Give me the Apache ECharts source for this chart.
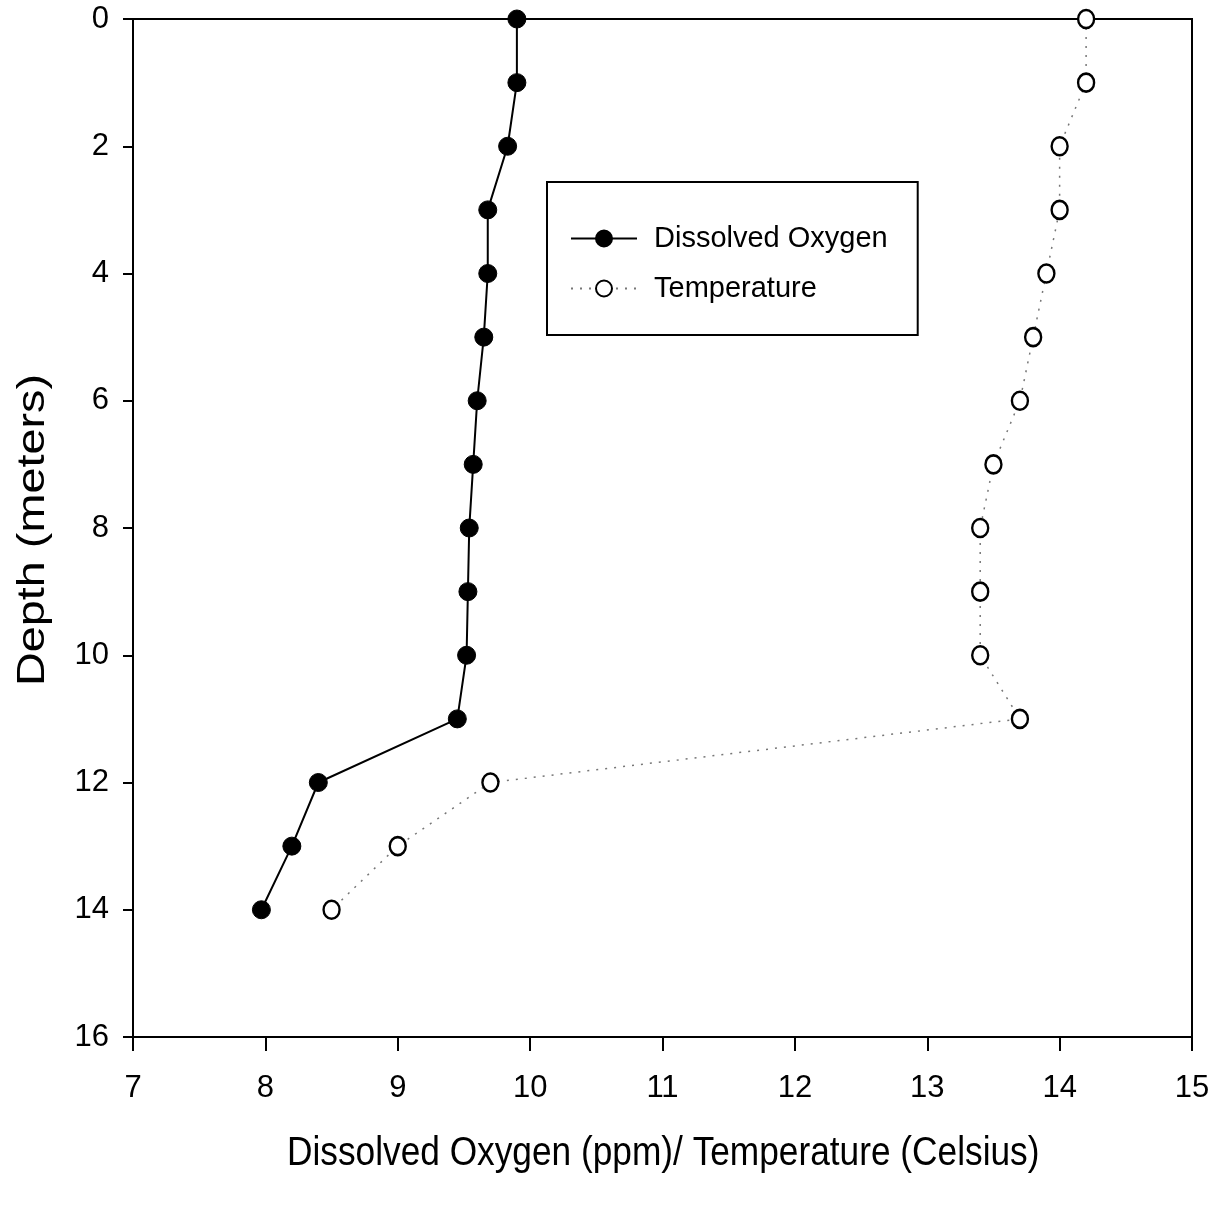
<!DOCTYPE html>
<html><head><meta charset="utf-8">
<script src="https://cdn.jsdelivr.net/npm/echarts@6/dist/echarts.min.js"></script>
<style>html,body{margin:0;padding:0;background:#fff}#c{width:1219px;height:1214px}</style>
</head><body><div id="c"></div>
<script>
const depths = [0,1,2,3,4,5,6,7,8,9,10,11,12,13,14];
const dissolvedOxygen = [9.90,9.90,9.83,9.68,9.68,9.65,9.60,9.57,9.54,9.53,9.52,9.45,8.40,8.20,7.97];
const temperature = [14.2,14.2,14.0,14.0,13.9,13.8,13.7,13.5,13.4,13.4,13.4,13.7,9.7,9.0,8.5];
const seriesNames = ['Dissolved Oxygen','Temperature'];
const xTitle = 'Dissolved Oxygen (ppm)/ Temperature (Celsius)';
const yTitle = 'Depth (meters)';

const sans = '"Liberation Sans", Arial, sans-serif';
const chart = echarts.init(document.getElementById('c'));
chart.setOption({
  animation: false,
  backgroundColor: '#fff',
  grid: {left: 133, top: 19, right: 27, bottom: 177, containLabel: false, outerBoundsMode: 'none',
    show: true, borderColor: '#000', borderWidth: 2, backgroundColor: 'transparent'},
  legend: {
    orient: 'vertical', left: 547, top: 182,
    padding: [42, 30, 32, 23],
    borderColor: '#000', borderWidth: 2,
    itemWidth: 66, itemHeight: 20, itemGap: 21,
    textStyle: {fontFamily: sans, fontSize: 29, color: '#000', lineHeight: 20, padding: [0, 0, 0, 12]},
    data: seriesNames
  },
  graphic: [
    {
      type: 'text', left: 287, top: 1133,
      style: {text: xTitle, font: '41px "Liberation Sans", Arial, sans-serif', fill: '#000'},
      scaleX: 0.86, originX: 0, originY: 0
    },
    {
      type: 'text', x: 33, y: 530, rotation: Math.PI / 2, scaleX: 1.2,
      style: {text: yTitle, font: '39px "Liberation Sans", Arial, sans-serif', fill: '#000',
        align: 'center', verticalAlign: 'middle'}
    }
  ],
  xAxis: {
    type: 'value', min: 7, max: 15, interval: 1,
    axisLine: {show: true, onZero: false, lineStyle: {color: '#000', width: 2}},
    axisTick: {show: true, inside: false, length: 14, lineStyle: {color: '#000', width: 2}},
    axisLabel: {margin: 36, fontFamily: sans, fontSize: 31, color: '#000'},
    splitLine: {show: false}
  },
  yAxis: {
    type: 'value', inverse: true, min: 0, max: 16, interval: 2,
    axisLine: {show: true, onZero: false, lineStyle: {color: '#000', width: 2}},
    axisTick: {show: true, inside: false, length: 10, lineStyle: {color: '#000', width: 2}},
    axisLabel: {margin: 24, fontFamily: sans, fontSize: 31, color: '#000'},
    splitLine: {show: false}
  },
  series: [
    {
      name: seriesNames[0], type: 'line',
      data: depths.map((d, i) => [dissolvedOxygen[i], d]),
      symbol: 'circle', symbolSize: 18,
      itemStyle: {color: '#000', borderColor: '#000', borderWidth: 1},
      lineStyle: {color: '#000', width: 2, type: 'solid'},
      z: 3
    },
    {
      name: seriesNames[1], type: 'line',
      data: depths.map((d, i) => [temperature[i], d]),
      symbol: 'circle', symbolSize: [16, 18],
      itemStyle: {color: '#fff', borderColor: '#000', borderWidth: 2.5},
      lineStyle: {color: '#777', width: 1.5, type: [2, 7]},
      z: 2
    }
  ]
});
</script></body></html>
